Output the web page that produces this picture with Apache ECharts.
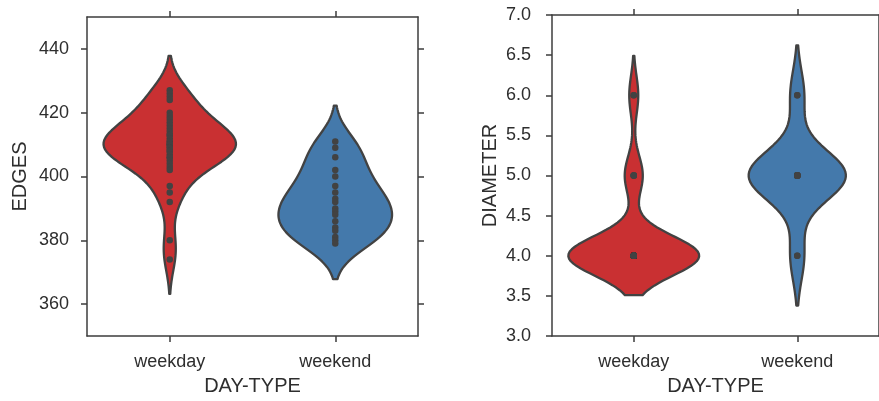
<!DOCTYPE html>
<html>
<head>
<meta charset="utf-8">
<script src="https://cdn.jsdelivr.net/npm/echarts@6/dist/echarts.min.js"></script>
<style>
  html, body { margin: 0; padding: 0; background: #fff; }
  #chart { width: 879px; height: 401px; }
</style>
</head>
<body>
<div id="chart"></div>
<script>
var dayTypes = ['weekday', 'weekend'];

var edgesWeekday = [427, 426, 425, 424, 420, 419, 418, 417, 416, 415, 414, 413, 413, 412, 411, 411,
  410, 410, 410, 409, 409, 408, 408, 407, 406, 406, 405, 404, 403, 402, 397, 395, 392, 380, 374];
var edgesWeekend = [411, 409, 406, 402, 400, 397, 395, 393, 392, 390, 389, 388, 386, 384, 383, 381, 380, 379];
var diameterWeekday = [4, 4, 4, 4, 4, 4, 4, 4, 4, 4, 4, 4, 4, 4, 4, 4, 4, 4, 4, 4, 4, 4, 4, 4, 4, 4, 4, 4, 4,
  5, 5, 5, 5, 6, 6];
var diameterWeekend = [4, 4, 5, 5, 5, 5, 5, 5, 5, 5, 5, 5, 5, 5, 5, 5, 6, 6];

var edgesBandwidth = [5.4, 5.6];
var diameterBandwidth = [0.245, 0.31];

var edgesTicks = [360, 380, 400, 420, 440];
var diameterTicks = [3.0, 3.5, 4.0, 4.5, 5.0, 5.5, 6.0, 6.5, 7.0];

var colors = ['#c93032', '#4479ab'];
var gray = '#424242';
var axisColor = '#3c3c3c';
var textColor = '#2e2e2e';
var font = '"Liberation Sans", Arial, sans-serif';

// gaussian kde on a 100 point grid, cut = 2 bandwidths
function kde(values, bw) {
  var lo = Math.min.apply(null, values) - 2 * bw;
  var hi = Math.max.apply(null, values) + 2 * bw;
  var ys = [], ds = [];
  for (var i = 0; i < 100; i++) {
    var y = lo + (hi - lo) * i / 99;
    var s = 0;
    values.forEach(function (v) {
      var z = (y - v) / bw;
      s += Math.exp(-0.5 * z * z);
    });
    ys.push(y);
    ds.push(s / (values.length * bw * Math.sqrt(2 * Math.PI)));
  }
  return { ys: ys, ds: ds };
}

// scale="area": largest peak in the panel fills the width
function panelShapes(groups, bws) {
  var shapes = groups.map(function (g, i) { return kde(g, bws[i]); });
  var top = 0;
  shapes.forEach(function (s) { top = Math.max(top, Math.max.apply(null, s.ds)); });
  shapes.forEach(function (s) { s.ds = s.ds.map(function (d) { return d / top; }); });
  return shapes;
}

var edgeShapes = panelShapes([edgesWeekday, edgesWeekend], edgesBandwidth);
var diamShapes = panelShapes([diameterWeekday, diameterWeekend], diameterBandwidth);

function violinSeries(shapes, axisIdx) {
  return {
    type: 'custom',
    xAxisIndex: axisIdx,
    yAxisIndex: axisIdx,
    clip: false,
    z: 2,
    data: shapes.map(function (s, i) { return [i, s.ys[0]]; }),
    renderItem: function (params, api) {
      var idx = params.dataIndex;
      var s = shapes[idx];
      var half = api.size([1, 0])[0] * 0.4;
      var leftSide = [], rightSide = [];
      for (var i = 0; i < s.ys.length; i++) {
        var p = api.coord([idx, s.ys[i]]);
        leftSide.push([p[0] - s.ds[i] * half, p[1]]);
        rightSide.unshift([p[0] + s.ds[i] * half, p[1]]);
      }
      return {
        type: 'polygon',
        shape: { points: leftSide.concat(rightSide) },
        style: { fill: colors[idx], stroke: gray, lineWidth: 2.3, lineJoin: 'round' }
      };
    }
  };
}

function pointSeries(groups, axisIdx) {
  var pts = [];
  groups.forEach(function (g, i) {
    g.forEach(function (v) { pts.push([i, v]); });
  });
  return {
    type: 'scatter',
    xAxisIndex: axisIdx,
    yAxisIndex: axisIdx,
    z: 3,
    symbolSize: 6.5,
    itemStyle: { color: gray, opacity: 1 },
    data: pts
  };
}

function xAxes(gridIdx) {
  var base = {
    type: 'category',
    gridIndex: gridIdx,
    data: dayTypes,
    axisLine: { show: true, lineStyle: { color: axisColor, width: 1.5 } },
    axisTick: { show: true, alignWithLabel: true, length: 6, lineStyle: { color: axisColor, width: 1.5 } },
    splitLine: { show: false }
  };
  return [
    Object.assign({}, base, {
      position: 'bottom',
      name: 'DAY-TYPE',
      nameLocation: 'middle',
      nameGap: 40,
      nameTextStyle: { fontFamily: font, fontSize: 20, color: textColor },
      axisLabel: { margin: 17, fontFamily: font, fontSize: 18, color: textColor }
    }),
    Object.assign({}, base, { position: 'top', axisLabel: { show: false } })
  ];
}

function yAxes(gridIdx, opt) {
  var base = {
    type: 'value',
    gridIndex: gridIdx,
    min: opt.min,
    max: opt.max,
    axisLine: { show: true, lineStyle: { color: axisColor, width: 1.5 } },
    axisTick: { show: true, length: 6, customValues: opt.ticks, lineStyle: { color: axisColor, width: 1.5 } },
    splitLine: { show: false }
  };
  return [
    Object.assign({}, base, {
      position: 'left',
      name: opt.name,
      nameLocation: 'middle',
      nameGap: opt.nameGap,
      nameTextStyle: { fontFamily: font, fontSize: 20, color: textColor },
      axisLabel: {
        margin: opt.margin, fontFamily: font, fontSize: 18, color: textColor,
        customValues: opt.ticks, formatter: opt.fmt
      }
    }),
    Object.assign({}, base, { position: 'right', axisLabel: { show: false } })
  ];
}

var chart = echarts.init(document.getElementById('chart'), null, { renderer: 'canvas' });
chart.setOption({
  animation: false,
  backgroundColor: '#fff',
  grid: [
    { left: 87, right: 461, top: 17, bottom: 62 },
    { left: 552, right: -2, top: 15, bottom: 64 }
  ],
  xAxis: xAxes(0).concat(xAxes(1)),
  yAxis: yAxes(0, {
    min: 350, max: 450, ticks: edgesTicks, name: 'EDGES', nameGap: 57, margin: 18,
    fmt: function (v) { return String(v); }
  }).concat(yAxes(1, {
    min: 3, max: 7, ticks: diameterTicks, name: 'DIAMETER', nameGap: 52, margin: 21,
    fmt: function (v) { return v.toFixed(1); }
  })),
  series: [
    violinSeries(edgeShapes, 0),
    pointSeries([edgesWeekday, edgesWeekend], 0),
    violinSeries(diamShapes, 2),
    pointSeries([diameterWeekday, diameterWeekend], 2)
  ]
});
</script>
</body>
</html>
